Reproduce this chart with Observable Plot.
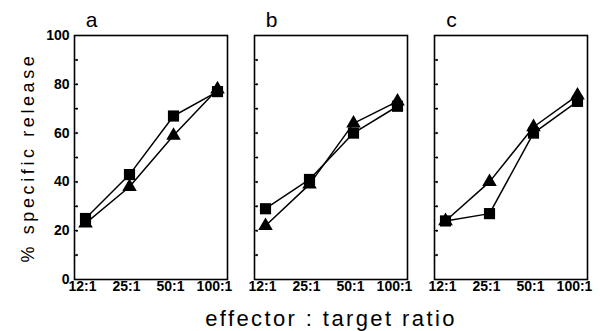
<!DOCTYPE html>
<html><head><meta charset="utf-8">
<script src="https://cdn.jsdelivr.net/npm/d3@7"></script>
<script src="https://cdn.jsdelivr.net/npm/@observablehq/plot@0.6"></script>
<style>
body{margin:0;background:#fff;}
</style>
</head><body>
<div id="chart"></div>
<script>
const panels = ["a", "b", "c"];
const ratios = ["12:1", "25:1", "50:1", "100:1"];
const squaresA = [25, 43, 67, 77];
const trianglesA = [23, 38, 59, 78];
const squaresB = [29, 41, 60, 71];
const trianglesB = [22, 39, 64, 73];
const squaresC = [24, 27, 60, 73];
const trianglesC = [24, 40, 62.5, 75.5];
const yTickLabels = [0, 20, 40, 60, 80, 100];
const yMinorTicks = [10, 20, 30, 40, 50, 60, 70, 80, 90];
const yTitle = "% specific release";
const xTitle = "effector : target ratio";

const seriesByPanel = {
  a: {square: squaresA, triangle: trianglesA},
  b: {square: squaresB, triangle: trianglesB},
  c: {square: squaresC, triangle: trianglesC}
};
const rows = [];
for (const p of panels) for (const s of ["triangle", "square"])
  seriesByPanel[p][s].forEach((v, i) => rows.push({panel: p, series: s, ratio: ratios[i], value: v}));

const font = "Liberation Sans, Arial, Helvetica, sans-serif";

const chart = Plot.plot({
  width: 600,
  height: 331,
  marginTop: 35,
  marginBottom: 52,
  marginLeft: 73,
  marginRight: 12,
  style: {fontFamily: font, background: "white", color: "black"},
  fx: {domain: panels, paddingInner: 0.149, paddingOuter: 0, label: null, axis: null},
  x: {type: "point", domain: ratios, padding: 0, inset: 10, label: null, axis: null},
  y: {domain: [0, 100], label: null, axis: null},
  marks: [
    Plot.frame({stroke: "black", strokeWidth: 1.6}),
    Plot.vector(yMinorTicks, {y: d => d, frameAnchor: "left", rotate: 90, length: 3, anchor: "start", stroke: "black", strokeWidth: 1.2}),
    Plot.axisY({ticks: yTickLabels, tickSize: 0, tickPadding: 5, fontSize: 14, fontWeight: "bold", label: null}),
    Plot.axisY({ticks: [], label: yTitle, labelAnchor: "center", labelArrow: "none", labelOffset: 53, ariaLabel: "ytitle"}),
    Plot.axisX({tickSize: 0, tickPadding: 2, fontSize: 14, fontWeight: "bold", dx: -3, label: null}),
    Plot.axisFx({ticks: [], label: xTitle, labelAnchor: "center", labelArrow: "none", labelOffset: 46, anchor: "bottom", ariaLabel: "xtitle"}),
    Plot.text(panels, {fx: d => d, x: () => ratios[0], y: () => 100, text: d => d, dx: 6, dy: -15, fontSize: 21}),
    Plot.line(rows, {fx: "panel", x: "ratio", y: "value", z: "series", stroke: "black", strokeWidth: 1.5}),
    Plot.dot(rows.filter(d => d.series === "triangle"), {fx: "panel", x: "ratio", y: "value", symbol: "triangle", r: 5.4, fill: "black"}),
    Plot.dot(rows.filter(d => d.series === "square"), {fx: "panel", x: "ratio", y: "value", symbol: "square", r: 6.3, fill: "black"})
  ]
});
document.getElementById("chart").appendChild(chart);
const svg = d3.select(chart);
svg.selectAll('[aria-label^="ytitle"] text').attr("font-size", 18).style("letter-spacing", "3.6px");
svg.selectAll('[aria-label^="xtitle"] text').attr("font-size", 22).style("letter-spacing", "2.4px");
</script>
</body></html>
